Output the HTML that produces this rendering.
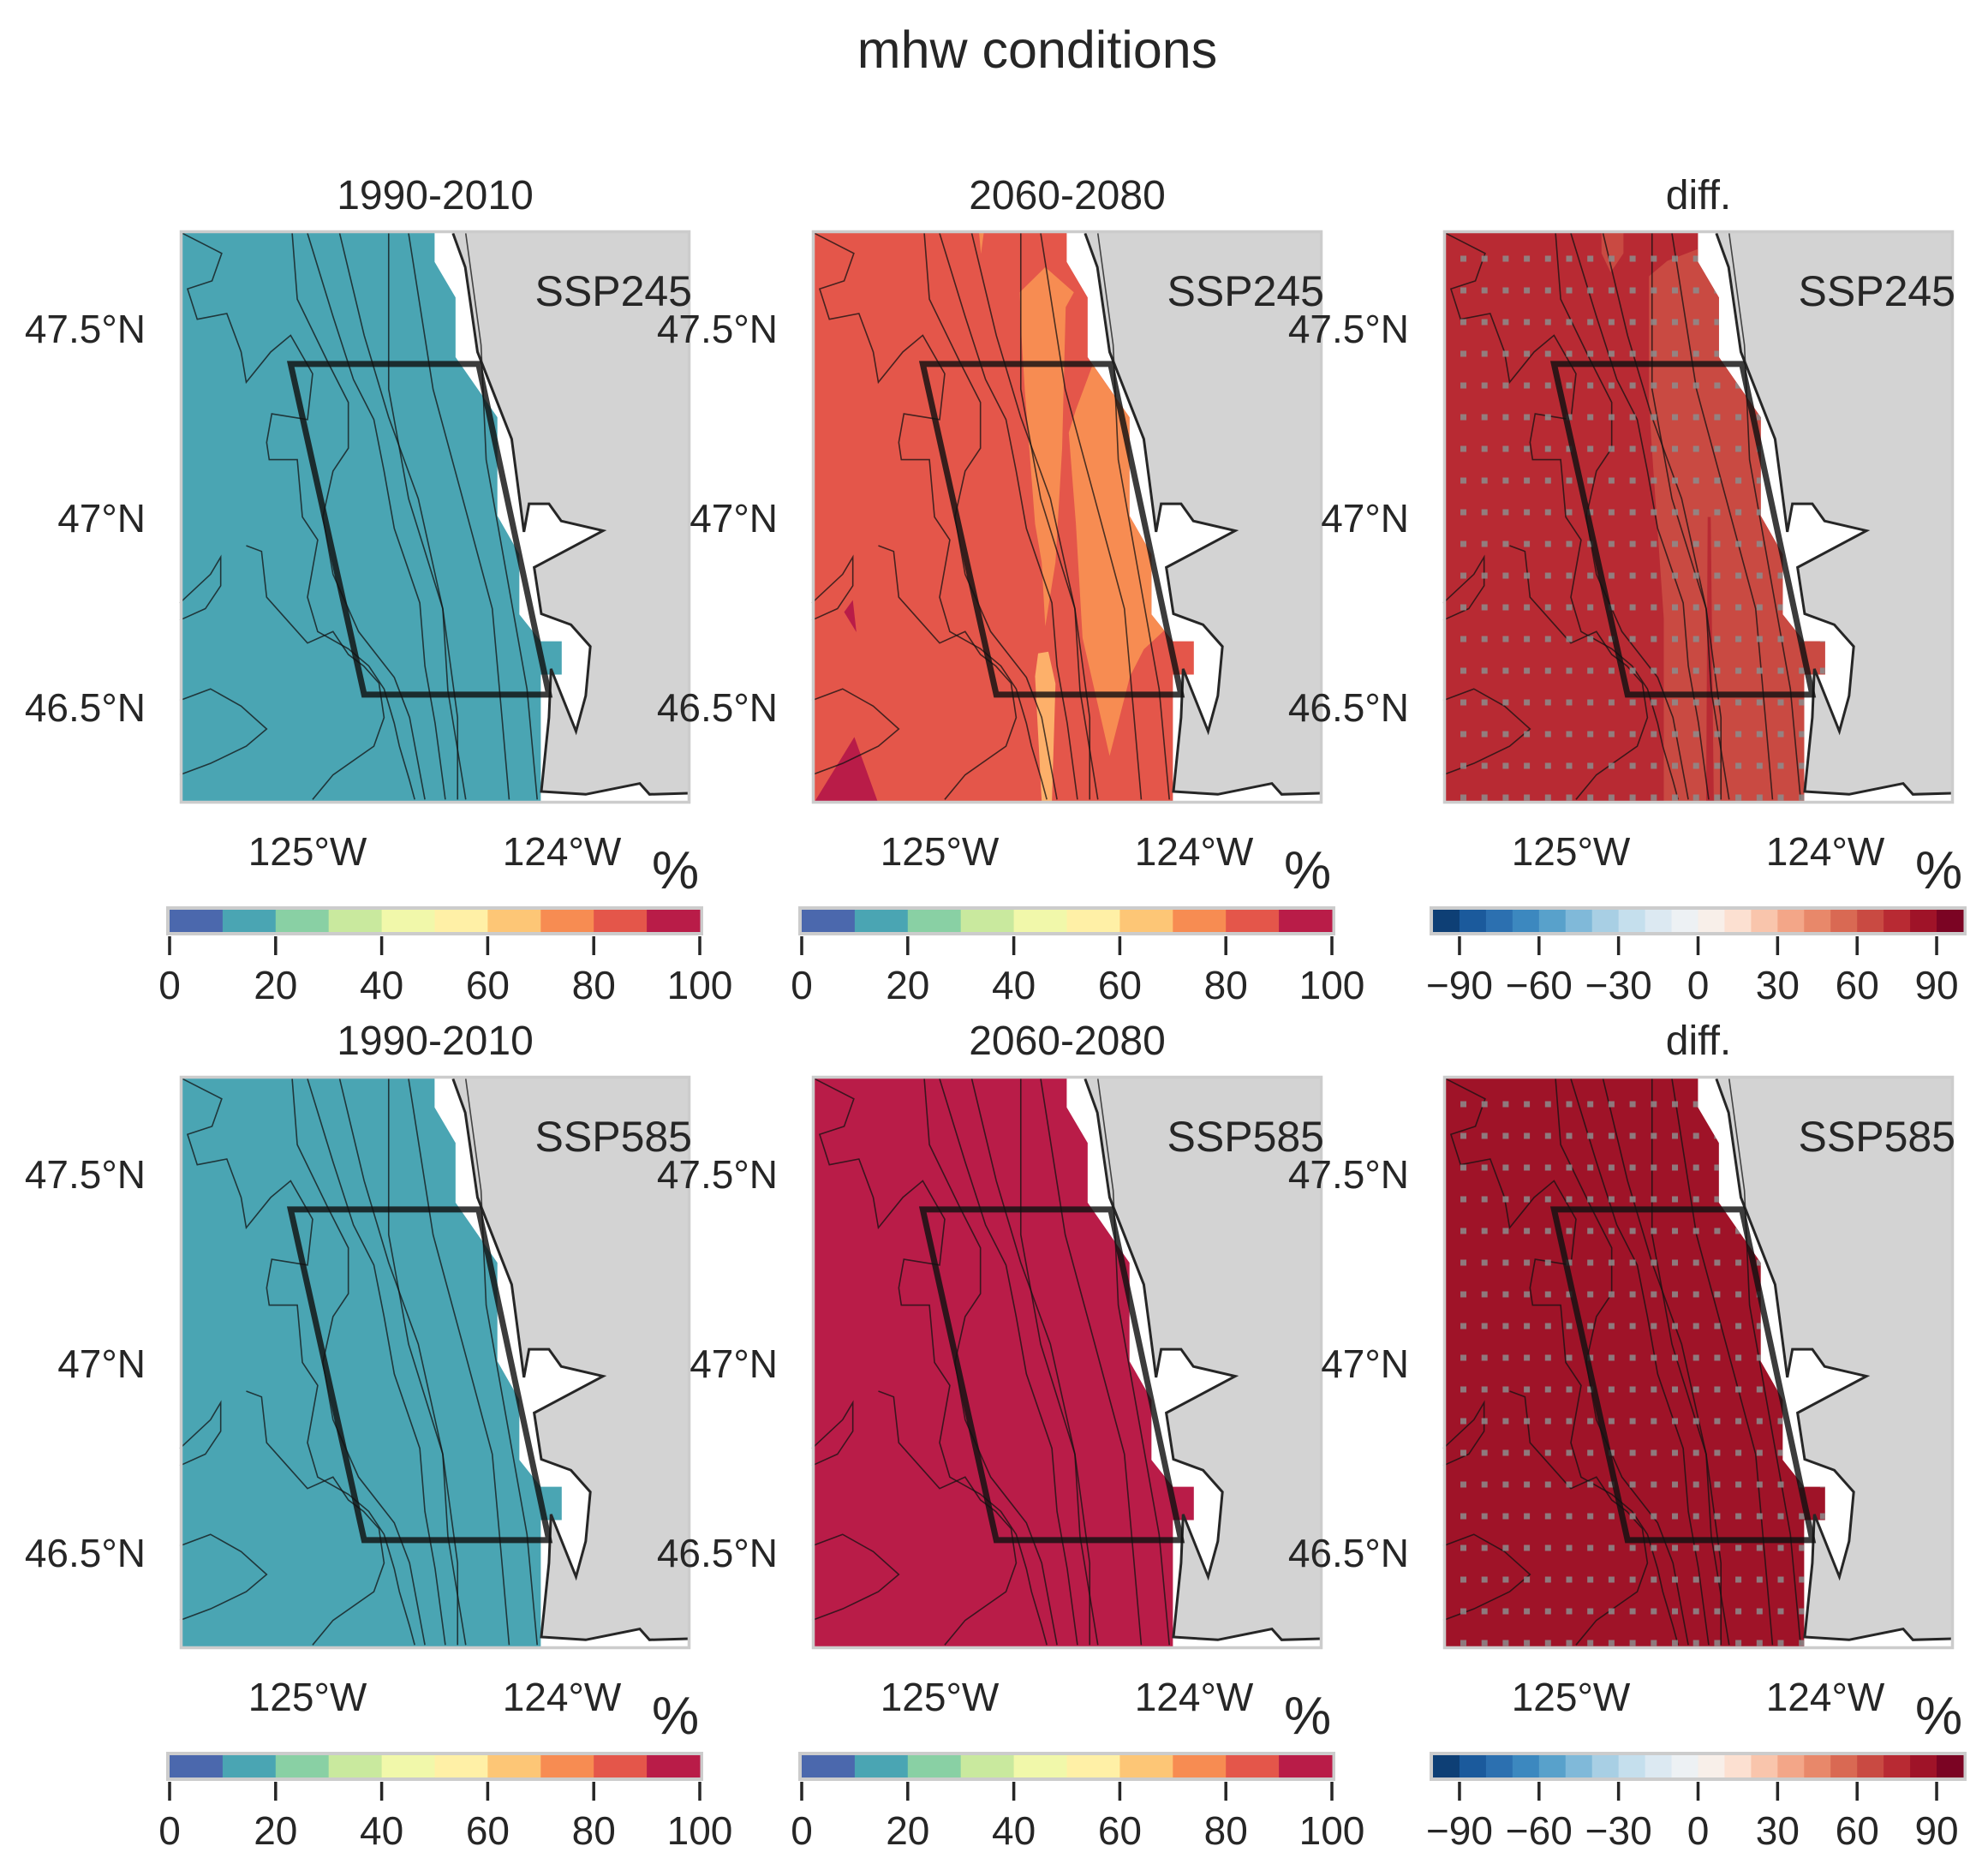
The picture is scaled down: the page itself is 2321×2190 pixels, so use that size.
<!DOCTYPE html>
<html><head><meta charset="utf-8">
<style>
html,body{margin:0;padding:0;background:#fff;}
#fig{position:relative;width:2321px;height:2190px;overflow:hidden;font-family:"Liberation Sans",Arial,sans-serif;color:#262626;}
.t{position:absolute;white-space:nowrap;line-height:1;}
svg{position:absolute;overflow:visible;}
</style></head>
<body>
<div id="fig">
<div class="t" style="left:0;width:2422px;top:28px;font-size:61px;text-align:center;">mhw conditions</div>
</div>
<script>
// ---- data arrays ----
const columnTitles = ["1990-2010","2060-2080","diff."];
const scenarios = ["SSP245","SSP585"];
const latTicks = ["47.5°N","47°N","46.5°N"];
const lonTicks = ["125°W","124°W"];
const spectralTicks = [0,20,40,60,80,100];
const spectralColors = ['#4b68ad','#4aa5b3','#89d0a4','#c9e99e','#f1f8aa','#fff0a6','#fdc676','#f78c52','#e4564a','#b91c48'];
const diffTicks = [-90,-60,-30,0,30,60,90];
const diffColors = ['#0e3f75','#1b5a9c','#2c70b0','#3c88bf','#58a1cb','#80b9d9','#a8cfe4','#c5dfed','#dce9f2','#edf1f4','#f8efe9','#fce0d1','#f9c5ac','#f3a688','#e8886a','#d96953','#c94a42','#b82a33','#9f1328','#7b0423'];
// base field value per panel (percent)
const baseValues = [[15, 85, 75],[15, 95, 85]];

const colLeft=[210,948,1685], rowTop=[269,1256], PW=596, PH=669;
const fig=document.getElementById('fig');
const NS='http://www.w3.org/2000/svg';

function specColor(v){return spectralColors[Math.max(0,Math.min(9,Math.floor(v/10)))];}
function diffColor(v){return diffColors[Math.max(0,Math.min(19,Math.floor((v+100)/10)))];}

const dataPoly="0,0 499,0 499,55 540,117 540,221 622,326 622,498 665,565 665,670 707,717 748,717 748,775 707,775 707,1000 0,1000";
const coast="535,5 559,64 583,212 650,364 660,431 674,526 684,477 723,477 747,507 829,524 694,588 708,669 766,688 804,726 795,812 776,874 727,765 723,850 708,979 795,984 901,965 920,984 997,982";
const contours=[
"409,5 409,277 448,468 515,660 544,850 544,993",
"448,5 496,277 554,468 612,660 631,850 645,993",
"313,5 361,183 409,326 467,468 515,660 525,803 560,993",
"250,5 300,150 340,260 380,330 400,420 420,520 470,650 480,760 500,860 520,993",
"220,5 230,120 290,230 330,300 330,380 300,420 280,500 300,600 350,700 420,780 450,850 480,993",
"5,5 82,40 63,88 15,102 34,155 92,145 120,212 130,265 178,212 217,183 260,250 250,330 180,320 170,370 175,400 230,400 240,500 270,540 250,640 270,700 330,730 370,760 400,800 420,860 430,900 450,960 460,993",
"0,650 60,600 80,570 80,620 50,660 0,680",
"0,820 60,800 120,830 170,870 130,900 60,930 0,950",
"130,550 160,560 170,640 210,680 250,720 300,700 330,740 360,760 390,790 400,850 380,900 300,950 260,993",
"560,5 590,200 600,400 640,600 680,800 700,993"
];

function mk(tag,attrs){const e=document.createElementNS(NS,tag);for(const k in attrs)e.setAttribute(k,attrs[k]);return e;}
function txt(s,css,name){const d=document.createElement('div');d.className='t';d.textContent=s;d.style.cssText=css;


fig.appendChild(d);return d;}

for(let r=0;r<2;r++){for(let c=0;c<3;c++){
 const L=colLeft[c],T=rowTop[r];
 const id='p'+r+c;
 txt(columnTitles[c],`left:${L}px;width:${PW}px;top:${T-64}px;font-size:48px;text-align:center;`,'panel-title');
 const svg=mk('svg',{width:PW,height:PH,style:`left:${L}px;top:${T}px;`});
 
 
 const defs=mk('defs',{});
 const cp=mk('clipPath',{id:'clip'+id});
 cp.appendChild(mk('polygon',{points:dataPoly}));
 defs.appendChild(cp);svg.appendChild(defs);
 const g=mk('g',{transform:`scale(${PW/1000},${PH/1000})`});
 svg.appendChild(g);
 const land=mk('polygon',{points:coast+" 1000,982 1000,0 535,0",fill:'#d3d3d3'});
 
 
 g.appendChild(land);
 const v=baseValues[r][c];
 const col=c==2?diffColor(v):specColor(v);
 const dp=mk('polygon',{points:dataPoly,fill:col});
 
 
 g.appendChild(dp);
 const cg=mk('g',{'clip-path':`url(#clip${id})`});
 g.appendChild(cg);
 if(r==0&&c==1){
  const bands=[["407,108 457,64 513,108 497,134 490,380 477,579 457,691 450,579 437,512 417,280 410,180",'#f78c52'],
   ["550,234 570,260 623,326 627,506 663,552 670,645 690,698 650,731 623,778 583,917 530,711 517,512 503,353 517,313",'#f78c52'],
   ["443,738 463,735 477,791 470,997 450,997 437,778",'#fdb06a'],
   ["327,1 337,1 331,41",'#f78c52'],
   ["80,645 87,701 63,666",'#b91c48'],["3,1000 83,884 130,1000",'#b91c48']];
  bands.forEach(b=>{const p=mk('polygon',{points:b[0],fill:b[1]});
   
   
   cg.appendChild(p);});
 }
 if(r==0&&c==2){
  [["403,80 439,53 497,33 1000,33 1000,1000 432,1000 432,677 411,411 403,300",'#c94a42'],["310,0 353,0 353,40 328,73 310,40",'#c94a42']].forEach(b=>{
   const p=mk('polygon',{points:b[0],fill:b[1]});
   
   
   cg.appendChild(p);});
  const s=mk('polygon',{points:"518,500 524,500 530,1000 515,1000",fill:'#b82a33'});cg.appendChild(s);
 }
 contours.forEach(pts=>{const p=mk('polyline',{points:pts,fill:'none',stroke:'#111','stroke-width':1.6,'stroke-opacity':0.75,'vector-effect':'non-scaling-stroke'});
  
  
  g.appendChild(p);});
 const cl=mk('polyline',{points:coast,fill:'none',stroke:'#262626','stroke-width':3,'vector-effect':'non-scaling-stroke'});
 
 
 g.appendChild(cl);
 if(c==2){
  const dg2=mk('g',{'clip-path':`url(#clip${id})`});
  g.appendChild(dg2);
  for(let i=0;i<25;i++)for(let j=0;j<18;j++){
   const x=(23.5+24.7*i)*1000/PW, y=(33+37*j)*1000/PH;
   const d=mk('rect',{x:x-3.5*1000/PW,y:y-3.5*1000/PH,width:7*1000/PW,height:7*1000/PH,fill:'#8c8c8c',opacity:0.85});
   
   
   dg2.appendChild(d);
  }
 }
 const box=mk('polygon',{points:"217,233 585,233 723,810 361,810",fill:'none',stroke:'#111','stroke-width':7,'stroke-opacity':0.82,'vector-effect':'non-scaling-stroke'});
 
 
 g.appendChild(box);
 const fr=mk('rect',{x:1.5,y:1.5,width:PW-3,height:PH-3,fill:'none',stroke:'#cccccc','stroke-width':3.5});
 
 
 svg.appendChild(fr);
 fig.appendChild(svg);
 // labels
 txt(scenarios[r],`left:${L}px;width:${PW+2}px;top:${T+46}px;font-size:50px;text-align:right;`,'scenario-label');
 latTicks.forEach((s,k)=>txt(s,`left:${L-300}px;width:${260}px;top:${T+115+221*k-23}px;font-size:46px;text-align:right;`,'lat-tick-label'));
 lonTicks.forEach((s,k)=>txt(s,`left:${L+149+297*k-100}px;width:200px;top:${T+725-23}px;font-size:46px;text-align:center;`,'lon-tick-label'));
 txt('%',`left:${L+PW-45}px;top:${T+747-30}px;font-size:62px;`,'colorbar-unit');
 // colorbar
 const cb=mk('svg',{width:PW+40,height:150,style:`left:${L-20}px;top:${T+PH+115}px;`});
 
 
 const x0=8,x1=PW+31;
 cb.appendChild(mk('rect',{x:x0-4,y:5,width:x1-x0+8,height:34,fill:'#cccccc'}));
 const colors=c==2?diffColors:spectralColors;
 const vmin=c==2?-100:0,vmax=100;
 const sx=v=>x0+(v-vmin)/(vmax-vmin)*(x1-x0);
 const step=(vmax-vmin)/colors.length;
 colors.forEach((cc,k)=>{const rr=mk('rect',{x:sx(vmin+k*step),y:9,width:sx(vmin+(k+1)*step)-sx(vmin+k*step)+0.5,height:26,fill:cc});
  
  
  cb.appendChild(rr);});
 const ticks=c==2?diffTicks:spectralTicks;
 ticks.forEach(tv=>{const tk=mk('line',{x1:sx(tv),x2:sx(tv),y1:40,y2:62,stroke:'#262626','stroke-width':3.5});
  
  
  cb.appendChild(tk);
  const tl=mk('text',{x:sx(tv),y:113,'text-anchor':'middle','font-size':46,fill:'#262626','font-family':'Liberation Sans, Arial, sans-serif'});
  tl.textContent=(tv<0?'\u2212'+(-tv):String(tv));
  
  
  cb.appendChild(tl);});
 fig.appendChild(cb);
}}
</script>
</body></html>
